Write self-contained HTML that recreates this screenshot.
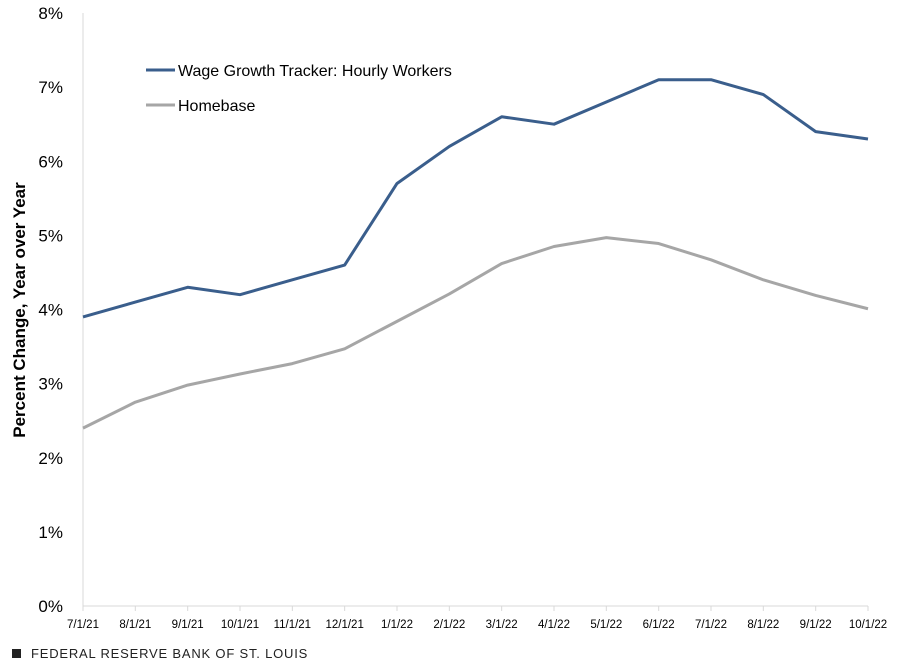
<!DOCTYPE html>
<html><head><meta charset="utf-8"><style>
body{margin:0;background:#fff;width:909px;height:660px;overflow:hidden;font-family:"Liberation Sans",sans-serif}
</style></head><body>
<svg id="chart" width="909" height="660" xmlns="http://www.w3.org/2000/svg"></svg>
<script>
const categories=["7/1/21","8/1/21","9/1/21","10/1/21","11/1/21","12/1/21","1/1/22","2/1/22","3/1/22","4/1/22","5/1/22","6/1/22","7/1/22","8/1/22","9/1/22","10/1/22"];
const wageTracker=[3.9,4.1,4.3,4.2,4.4,4.6,5.7,6.2,6.6,6.5,6.8,7.1,7.1,6.9,6.4,6.3];
const homebase=[2.4,2.75,2.98,3.13,3.27,3.47,3.84,4.21,4.62,4.85,4.97,4.89,4.67,4.40,4.19,4.01];
const yTicks=[0,1,2,3,4,5,6,7,8];
const svg=document.getElementById('chart');
const NS='http://www.w3.org/2000/svg';
const x0=83,x1=868,yb=606,yt=13;
const xs=i=>x0+i*(x1-x0)/(categories.length-1);
const ys=v=>yb-v*(yb-yt)/8;
function mk(t,a){const e=document.createElementNS(NS,t);for(const k in a)e.setAttribute(k,a[k]);svg.appendChild(e);return e;}
let e;
e=mk('line',{x1:x0,y1:yt,x2:x0,y2:yb,stroke:'#d9d9d9','stroke-width':1});


e=mk('line',{x1:x0,y1:yb,x2:x1,y2:yb,stroke:'#d9d9d9','stroke-width':1});


yTicks.forEach(v=>{
  const t=mk('text',{x:63,y:ys(v)+6,'text-anchor':'end','font-size':17,fill:'#000'});
  t.textContent=v+'%';
  
  
});
categories.forEach((c,i)=>{
  const l=mk('line',{x1:xs(i),y1:yb,x2:xs(i),y2:yb+5,stroke:'#d9d9d9'});
  
  
  const t=mk('text',{x:xs(i),y:628,'text-anchor':'middle','font-size':11.5,fill:'#000'});
  t.textContent=c;
  
  
});
const yt2=mk('text',{x:0,y:0,'font-size':17,'font-weight':'bold',fill:'#000','text-anchor':'middle',transform:'translate(25,310) rotate(-90)'});
yt2.textContent='Percent Change, Year over Year';


function line(arr,col,name){
  const p=mk('polyline',{points:arr.map((v,i)=>xs(i)+','+ys(v)).join(' '),fill:'none',stroke:col,'stroke-width':3,'stroke-linejoin':'round'});
  
  
}
line(homebase,'#a6a6a6','homebase-line');
line(wageTracker,'#3a5e8c','wage-tracker-line');
function leg(y,col,txt,name){
  const l=mk('line',{x1:146,y1:y,x2:175,y2:y,stroke:col,'stroke-width':3});
  
  
  const t=mk('text',{x:178,y:y+6,'font-size':16,fill:'#000'});
  t.textContent=txt;
  
  
}
leg(70,'#3a5e8c','Wage Growth Tracker: Hourly Workers','legend-wage-tracker');
leg(105,'#a6a6a6','Homebase','legend-homebase');
const sq=mk('rect',{x:12,y:649,width:9,height:9,fill:'#222'});


const f=mk('text',{x:31,y:658,'font-size':13,fill:'#222','letter-spacing':'0.8'});
f.textContent='FEDERAL RESERVE BANK OF ST. LOUIS';


</script>
</body></html>
